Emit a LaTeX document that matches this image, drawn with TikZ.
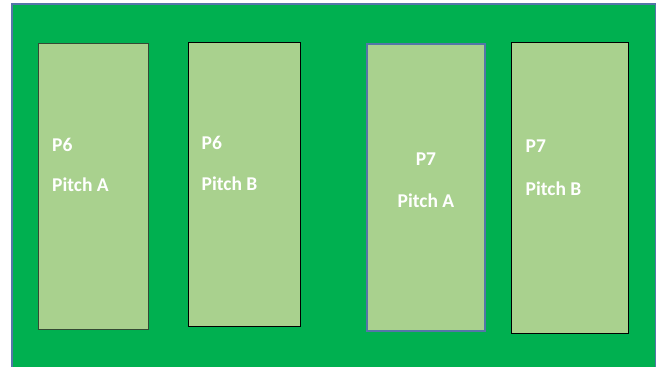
\documentclass[tikz,border=0pt]{standalone}
\usepackage{fontspec}
\setmainfont{Carlito}
\definecolor{fieldGreen}{RGB}{0,176,80}
\definecolor{pitchGreen}{RGB}{169,209,142}
\definecolor{edgeBlue}{RGB}{84,118,168}
\definecolor{edgeDark}{RGB}{52,74,52}
\usetikzlibrary{positioning}

\begin{document}
\begin{tikzpicture}[x=1pt, y=-1pt,
  pitch/.style={draw, line width=1pt, fill=pitchGreen},
  lbl/.style={text=white, font=\fontsize{19.5}{23}\selectfont\bfseries, inner sep=0pt}
]
  \useasboundingbox (0,0) rectangle (665,367);
  \begin{scope}
    \clip (0,0) rectangle (665,367);
    \draw[fill=fieldGreen, draw=edgeBlue, line width=1.2pt] (12,4) rectangle (655.5,375);
  \end{scope}

  % pitches
  \path[pitch, draw=edgeDark] (38,43) rectangle (148,329) coordinate (p6a);
  \path[pitch, draw=black]    (188,42) rectangle (300,326) coordinate (p6b);
  \path[pitch, draw=edgeBlue, line width=1.3pt] (367,44) rectangle (485,331) coordinate (p7a);
  \path[pitch, draw=black]    (511,42) rectangle (628.5,333) coordinate (p7b);

  % labels
  \node[lbl, anchor=base west] (p6a-no) at (52,151) {P6};
  \node[lbl, anchor=base west] (p6a-pitch) at (52,191.5) {Pitch A};
  \node[lbl, anchor=base west] (p6b-no) at (201.5,149.5) {P6};
  \node[lbl, anchor=base west] (p6b-pitch) at (201.5,190) {Pitch B};
  \node[lbl, anchor=base] (p7a-no) at (426,165) {P7};
  \node[lbl, anchor=base] (p7a-pitch) at (426,207) {Pitch A};
  \node[lbl, anchor=base west] (p7b-no) at (525.5,152.5) {P7};
  \node[lbl, anchor=base west] (p7b-pitch) at (525.5,195) {Pitch B};
\end{tikzpicture}
\end{document}
